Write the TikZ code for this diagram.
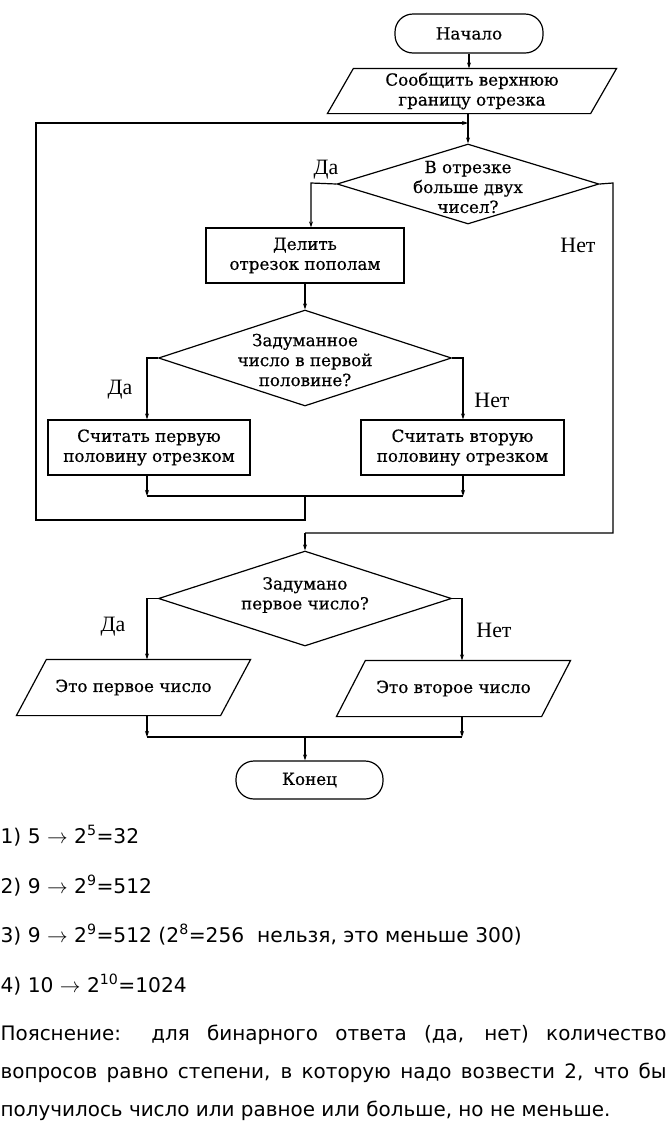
\documentclass[tikz,border=0pt]{standalone}
\usepackage{fontspec}
\setmainfont{DejaVu Serif}
\newfontfamily\flowfam{DejaVu Serif}[FakeBold=0.5]
\newfontfamily\labfont{Liberation Serif}
\newfontfamily\ansfont{DejaVu Sans}
\usetikzlibrary{arrows.meta,shapes.geometric}
\newcommand\flowfont{\flowfam\fontsize{16.8}{20}\selectfont}
\newcommand\drawparal[2]{%
  \draw ([xshift=#2]#1.north west) -- (#1.north east) -- ([xshift=-#2]#1.south east) -- (#1.south west) -- cycle;}
\newcommand\rarr{\ensuremath{\rightarrow}}
\tikzset{
  term/.style={draw, rectangle, rounded corners=18bp, inner sep=0pt, font=\flowfont},
  proc/.style={draw, rectangle, inner sep=0pt, align=center, font=\flowfont},
  pbox/.style={rectangle, inner sep=0pt, align=center, font=\flowfont},
  dia/.style={draw, diamond, inner sep=0pt},
  txt/.style={inner sep=0pt, align=center, font=\flowfont},
  lab/.style={inner sep=0pt, font=\labfont\fontsize{22}{22}\selectfont},
  ans/.style={inner sep=0pt, anchor=base west, font=\ansfont\fontsize{20.3}{20}\selectfont},
  flow/.style={line width=1.2bp},
  arr/.style={flow, -{Stealth[length=6bp,width=4bp]}}
}
\begin{document}
\begin{tikzpicture}[x=1bp,y=-1bp, line width=1.2bp]
\useasboundingbox (0,0) rectangle (669,1124);

% nodes
\node[term, minimum width=148bp, minimum height=39bp] (start) at (469,33.5) {Начало};
\node[pbox, minimum width=288bp, minimum height=44bp] (p1) at (472,91) {Сообщить верхнюю\\границу отрезка};
\drawparal{p1}{26bp}
\node[dia, minimum width=262bp, minimum height=80bp] (d1) at (468,184) {};
\node[txt] (d1t) at (468,187) {В отрезке\\больше двух\\чисел?};
\node[proc, minimum width=198bp, minimum height=55bp] (b1) at (305,255.5) {Делить\\отрезок пополам};
\node[dia, minimum width=293bp, minimum height=96bp] (d2) at (305,358) {};
\node[txt] (d2t) at (305,360) {Задуманное\\число в первой\\половине?};
\node[proc, minimum width=202bp, minimum height=55bp] (b2) at (149,447.5) {Считать первую\\половину отрезком};
\node[proc, minimum width=203bp, minimum height=55bp] (b3) at (462.5,447.5) {Считать вторую\\половину отрезком};
\node[dia, minimum width=293bp, minimum height=95bp] (d3) at (305,598.5) {};
\node[txt] (d3t) at (305,595) {Задумано\\первое число?};
\node[pbox, minimum width=233bp, minimum height=55bp] (p2) at (133.5,687.5) {Это первое число};
\drawparal{p2}{30bp}
\node[pbox, minimum width=233bp, minimum height=55bp] (p3) at (453.5,688.5) {Это второе число};
\drawparal{p3}{29bp}
\node[term, minimum width=147bp, minimum height=38bp] (end) at (309.5,780) {Конец};

% labels
\node[lab] (l1) at (326,170) {Да};
\node[lab] (l2) at (578,245) {Нет};
\node[lab] (l3) at (120,390) {Да};
\node[lab] (l4) at (492,400) {Нет};
\node[lab] (l5) at (113,627) {Да};
\node[lab] (l6) at (494,630) {Нет};

% coordinates
\coordinate (loopin) at (468,123);
\coordinate (yes1) at (311,183);
\coordinate (no1) at (613,183);
\coordinate (c3) at (305,533);
\coordinate (yes2) at (147,358);
\coordinate (no2) at (463,358);
\coordinate (m2l) at (147,496);
\coordinate (m2r) at (463,496);
\coordinate (m2) at (305,496);
\coordinate (back) at (36,520);
\coordinate (yes3) at (147,598.5);
\coordinate (no3) at (462,598.5);
\coordinate (m3l) at (147,737);
\coordinate (m3r) at (462,737);
\coordinate (m3) at (305,737);

% connectors
\draw[arr] (start.south) -- (start.south |- p1.north);
\draw[arr] (d1.north |- p1.south) -- (d1.north);
\draw[arr] (m2) |- (back) |- (loopin);
\draw[arr] (d1.west) -- (yes1) -- (yes1 |- b1.north);
\draw[flow] (d1.east) -- (no1) |- (c3);
\draw[arr] (c3) -- (d3.north);
\draw[arr] (b1.south) -- (d2.north);
\draw[arr] (d2.west) -- (yes2) -- (yes2 |- b2.north);
\draw[arr] (d2.east) -- (no2) -- (no2 |- b3.north);
\draw[arr] (yes2 |- b2.south) -- (m2l);
\draw[arr] (no2 |- b3.south) -- (m2r);
\draw[flow] (m2l) -- (m2r);
\draw[arr] (d3.west) -- (yes3) -- (yes3 |- p2.north);
\draw[arr] (d3.east) -- (no3) -- (no3 |- p3.north);
\draw[arr] (yes3 |- p2.south) -- (m3l);
\draw[arr] (no3 |- p3.south) -- (m3r);
\draw[flow] (m3l) -- (m3r);
\draw[arr] (m3) -- (m3 |- end.north);

% answer text
\node[ans] (a1) at (0,843) {1) 5 \rarr{} 2\textsuperscript{5}=32};
\node[ans] (a2) at (0,893) {2) 9 \rarr{} 2\textsuperscript{9}=512};
\node[ans] (a3) at (0,942) {3) 9 \rarr{} 2\textsuperscript{9}=512 (2\textsuperscript{8}=256\ \ нельзя, это меньше 300)};
\node[ans] (a4) at (0,992) {4) 10 \rarr{} 2\textsuperscript{10}=1024};
\node[inner sep=0pt, anchor=north west, text width=666bp, align=justify,
      font=\ansfont\fontsize{20}{38.5}\selectfont] (expl) at (0,1024)
  {Пояснение: для бинарного ответа (да, нет) количество\linebreak
   вопросов равно степени, в которую надо возвести 2, что бы\linebreak
   получилось число или равное или больше, но не меньше.};
\end{tikzpicture}
\end{document}
